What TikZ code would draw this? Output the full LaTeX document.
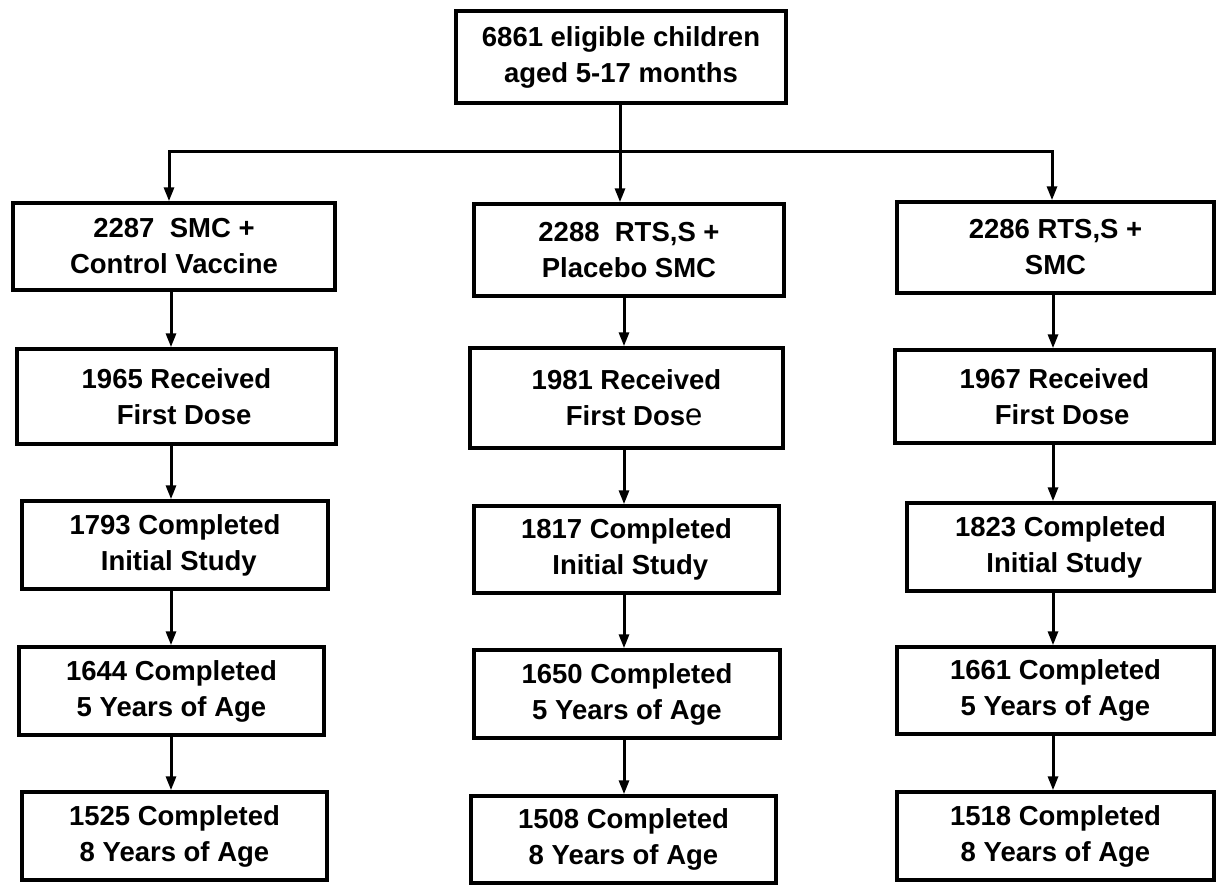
\documentclass[tikz,border=0pt]{standalone}
\usepackage{fontspec}
\setmainfont{Liberation Sans}
\usetikzlibrary{arrows.meta}
\begin{document}
\begin{tikzpicture}[x=1pt,y=-1pt,
  box/.style={draw=black, line width=3.5pt, fill=white, align=center, inner sep=0pt,
    font=\bfseries\fontsize{27.5}{36}\selectfont},
  arr/.style={draw=black, line width=3pt, -{Triangle[length=14pt,width=10pt]}},
  ln/.style={draw=black, line width=3pt}]
\useasboundingbox (0,0) rectangle (1217,884);
\fill[white] (0,0) rectangle (1217,884);

\node[box, minimum width=330pt, minimum height=92pt] (top) at (621,57) {6861 eligible children\\aged 5-17 months};

\node[box, minimum width=322pt, minimum height=87pt] (r1c1) at (174,246.5) {2287\ \ SMC +\\Control Vaccine};
\node[box, minimum width=310pt, minimum height=92pt] (r1c2) at (629,250) {2288\ \ RTS,S +\\Placebo SMC};
\node[box, minimum width=317pt, minimum height=91pt] (r1c3) at (1055.5,247.5) {2286 RTS,S +\\SMC};

\node[box, minimum width=319pt, minimum height=95pt] (r2c1) at (176.5,396.5) {1965 Received\\\ \ First Dose};
\node[box, minimum width=313pt, minimum height=100pt] (r2c2) at (626.5,398) {1981 Received\\\ \ First Dos{\mdseries\fontsize{31}{36}\selectfont e}};
\node[box, minimum width=319pt, minimum height=93pt] (r2c3) at (1054.5,396.5) {1967 Received\\\ \ First Dose};

\node[box, minimum width=306pt, minimum height=88pt] (r3c1) at (175,545) {1793 Completed\\\ Initial Study};
\node[box, minimum width=305pt, minimum height=87pt] (r3c2) at (626.5,549.5) {1817 Completed\\\ Initial Study};
\node[box, minimum width=307pt, minimum height=88pt] (r3c3) at (1060.5,547) {1823 Completed\\\ Initial Study};

\node[box, minimum width=305pt, minimum height=88pt] (r4c1) at (171.5,691) {1644 Completed\\5 Years of Age};
\node[box, minimum width=306pt, minimum height=88pt] (r4c2) at (627,694) {1650 Completed\\5 Years of Age};
\node[box, minimum width=317pt, minimum height=87pt] (r4c3) at (1055.5,690.5) {1661 Completed\\5 Years of Age};

\node[box, minimum width=305pt, minimum height=88pt] (r5c1) at (174.5,836) {1525 Completed\\8 Years of Age};
\node[box, minimum width=305pt, minimum height=87pt] (r5c2) at (623.5,839.5) {1508 Completed\\8 Years of Age};
\node[box, minimum width=317pt, minimum height=88pt] (r5c3) at (1055.5,836) {1518 Completed\\8 Years of Age};

\coordinate (colA) at (171,0);
\coordinate (colB) at (624,0);
\coordinate (colC) at (1053,0);
\coordinate (barL) at (169,151);
\coordinate (barR) at (1052,151);
\coordinate (barM) at (620,151);

\draw[ln] (top.south -| barM) -- (barM);
\draw[ln, line cap=rect] (barL) -- (barR);
\draw[arr] (barL) -- (r1c1.north -| barL);
\draw[arr] (barM) -- (r1c2.north -| barM);
\draw[arr] (barR) -- (r1c3.north -| barR);

\foreach \c/\col in {1/colA,2/colB,3/colC}{
  \draw[arr] (r1c\c.south -| \col) -- (r2c\c.north -| \col);
  \draw[arr] (r2c\c.south -| \col) -- (r3c\c.north -| \col);
  \draw[arr] (r3c\c.south -| \col) -- (r4c\c.north -| \col);
  \draw[arr] (r4c\c.south -| \col) -- (r5c\c.north -| \col);
}
\end{tikzpicture}
\end{document}
